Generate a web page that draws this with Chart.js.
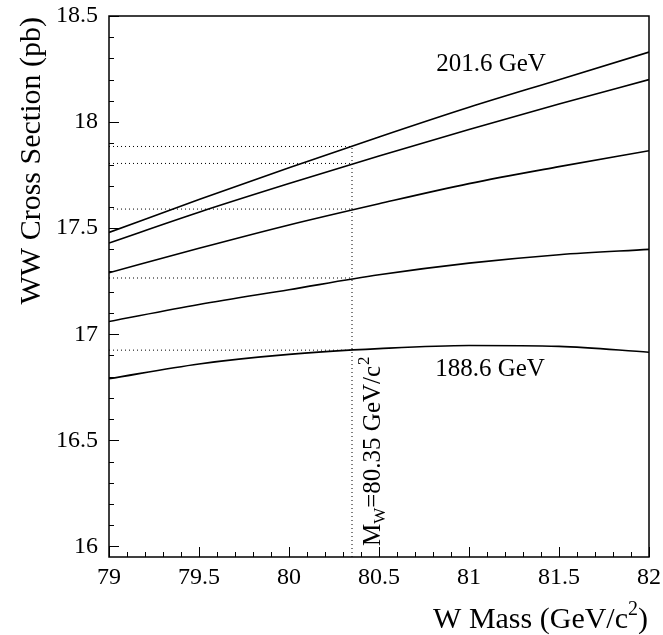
<!DOCTYPE html>
<html>
<head>
<meta charset="utf-8">
<script src="https://cdn.jsdelivr.net/npm/chart.js@4/dist/chart.umd.min.js"></script>
<style>
  html, body { margin: 0; padding: 0; background: #fff; }
  #contenedor { width: 663px; height: 635px; }
</style>
</head>
<body>
<div id="contenedor"><canvas id="graficoSeccion"></canvas></div>
<script>
// masa del W (GeV/c^2) y seccion eficaz WW (pb) para cada energia
const masaW = [79, 79.5, 80, 80.5, 81, 81.5, 82];
const seccion2016 = [17.48, 17.635, 17.785, 17.93, 18.07, 18.2, 18.33];
const seccionB = [17.43, 17.575, 17.71, 17.84, 17.965, 18.085, 18.2];
const seccionC = [17.29, 17.405, 17.515, 17.615, 17.71, 17.79, 17.865];
const seccionD = [17.06, 17.14, 17.21, 17.28, 17.335, 17.375, 17.4];
const seccion1886 = [16.79, 16.86, 16.905, 16.932, 16.947, 16.943, 16.915];

// valor de referencia y cortes en 80.35
const masaRef = 80.35;
const cortesRef = [17.885, 17.805, 17.59, 17.265, 16.925];

const ticksX = [79, 79.5, 80, 80.5, 81, 81.5, 82];
const ticksY = [16, 16.5, 17, 17.5, 18, 18.5];

const FUENTE = "'Liberation Serif', 'DejaVu Serif', serif";
const Y_MIN = 15.95;

const aPuntos = (valores) => masaW.map((m, i) => ({ x: m, y: valores[i] }));

const curva = (valores) => ({
  data: aPuntos(valores),
  borderColor: "#000",
  borderWidth: 1.6,
  pointRadius: 0,
  cubicInterpolationMode: "monotone",
  fill: false,
});

const punteada = (puntos) => ({
  data: puntos,
  borderColor: "#000",
  borderWidth: 1,
  borderDash: [1, 3],
  pointRadius: 0,
  fill: false,
});

const datasets = [
  curva(seccion2016),
  curva(seccionB),
  curva(seccionC),
  curva(seccionD),
  curva(seccion1886),
  punteada([{ x: masaRef, y: Y_MIN }, { x: masaRef, y: cortesRef[0] }]),
  ...cortesRef.map((v) => punteada([{ x: 79, y: v }, { x: masaRef, y: v }])),
];

const marcoPlugin = {
  id: "marco",
  afterDatasetsDraw(chart) {
    const { ctx, chartArea: a, scales } = chart;
    const x = scales.x;
    const y = scales.y;
    ctx.save();
    ctx.strokeStyle = "#000";

    ctx.lineWidth = 1.5;
    ctx.strokeRect(a.left, a.top, a.right - a.left, a.bottom - a.top);

    // marcas hacia adentro
    ctx.lineWidth = 1;
    ctx.beginPath();
    for (let i = 0; i <= 25; i++) {
      const py = Math.round(y.getPixelForValue(16 + i * 0.1)) + 0.5;
      const largo = i % 5 === 0 ? 10 : 5;
      ctx.moveTo(a.left, py);
      ctx.lineTo(a.left + largo, py);
    }
    for (let i = 0; i <= 30; i++) {
      const px = Math.round(x.getPixelForValue(79 + i * 0.1)) + 0.5;
      const largo = i % 5 === 0 ? 10 : 5;
      ctx.moveTo(px, a.bottom);
      ctx.lineTo(px, a.bottom - largo);
    }
    ctx.stroke();

    ctx.fillStyle = "#000";
    ctx.textBaseline = "alphabetic";

    // etiquetas de energia
    ctx.font = "25px " + FUENTE;
    ctx.textAlign = "center";
    ctx.fillText("201.6 GeV", 491, 71);
    ctx.fillText("188.6 GeV", 490, 376);

    // titulo eje x
    ctx.textAlign = "right";
    ctx.font = "30px " + FUENTE;
    const wCierre = ctx.measureText(")").width;
    ctx.font = "20px " + FUENTE;
    const wSup = ctx.measureText("2").width;
    let xd = a.right - 1;
    ctx.font = "30px " + FUENTE;
    ctx.fillText(")", xd, 628);
    xd -= wCierre;
    ctx.font = "20px " + FUENTE;
    ctx.fillText("2", xd, 615);
    xd -= wSup;
    ctx.font = "30px " + FUENTE;
    ctx.fillText("W Mass (GeV/c", xd, 628);

    // titulo eje y
    ctx.save();
    ctx.translate(40, 17);
    ctx.rotate(-Math.PI / 2);
    ctx.textAlign = "right";
    ctx.font = "30px " + FUENTE;
    ctx.fillText("WW Cross Section (pb)", 0, 0);
    ctx.restore();

    // anotacion vertical M_W
    ctx.save();
    ctx.translate(380, 546);
    ctx.rotate(-Math.PI / 2);
    ctx.textAlign = "left";
    let pos = 0;
    ctx.font = "25px " + FUENTE;
    ctx.fillText("M", pos, 0);
    pos += ctx.measureText("M").width;
    ctx.font = "17px " + FUENTE;
    ctx.fillText("W", pos, 5);
    pos += ctx.measureText("W").width;
    ctx.font = "25px " + FUENTE;
    const txt = "=80.35 GeV/c";
    ctx.fillText(txt, pos, 0);
    pos += ctx.measureText(txt).width;
    ctx.font = "17px " + FUENTE;
    ctx.fillText("2", pos + 1, -11);
    ctx.restore();

    ctx.restore();
  },
};

new Chart(document.getElementById("graficoSeccion"), {
  type: "line",
  data: { datasets },
  options: {
    responsive: true,
    maintainAspectRatio: false,
    animation: false,
    events: [],
    layout: { padding: { top: 16, right: 14, left: 0, bottom: 0 } },
    plugins: {
      legend: { display: false },
      tooltip: { enabled: false },
    },
    scales: {
      x: {
        type: "linear",
        min: 79,
        max: 82,
        afterBuildTicks: (scale) => {
          scale.ticks = ticksX.map((v) => ({ value: v }));
        },
        afterFit: (scale) => {
          scale.height = 78;
          scale.paddingLeft = 0;
          scale.paddingRight = 0;
        },
        border: { display: false },
        grid: { display: false, drawTicks: false },
        ticks: {
          color: "#000",
          padding: 6,
          maxRotation: 0,
          font: { family: FUENTE, size: 24 },
          callback: (v) => String(v),
        },
      },
      y: {
        type: "linear",
        min: Y_MIN,
        max: 18.5,
        afterBuildTicks: (scale) => {
          scale.ticks = ticksY.map((v) => ({ value: v }));
        },
        afterFit: (scale) => {
          scale.width = 109;
          scale.paddingTop = 0;
          scale.paddingBottom = 0;
        },
        border: { display: false },
        grid: { display: false, drawTicks: false },
        ticks: {
          color: "#000",
          padding: 11,
          font: { family: FUENTE, size: 24 },
          callback: (v) => String(v),
        },
      },
    },
  },
  plugins: [marcoPlugin],
});
</script>
</body>
</html>
